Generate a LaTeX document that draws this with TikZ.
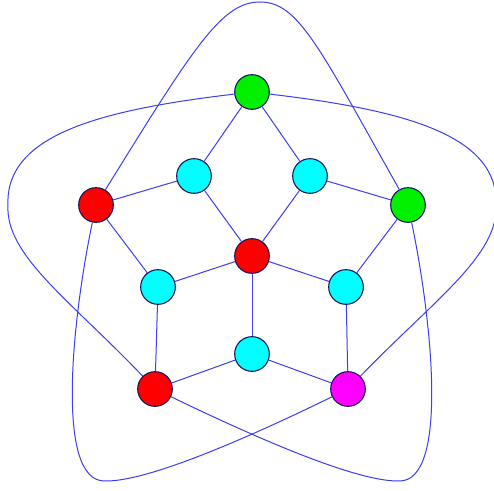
\documentclass[tikz,border=0pt]{standalone}
\usetikzlibrary{positioning}

\definecolor{edgeblue}{RGB}{60,60,240}
\definecolor{rimnavy}{RGB}{20,20,90}
\definecolor{vgreen}{RGB}{0,240,0}
\definecolor{vred}{RGB}{255,0,0}
\definecolor{vcyan}{RGB}{0,255,255}
\definecolor{vmagenta}{RGB}{255,0,255}

\tikzset{
  vertex/.style={circle, draw=rimnavy, line width=0.8pt, minimum size=26pt, inner sep=0pt},
  link/.style={draw=edgeblue, line width=0.75pt}
}

\begin{document}
\begin{tikzpicture}[x=0.75pt,y=0.75pt,yscale=-1,xscale=1]
\useasboundingbox (0,0) rectangle (494,491);

%outer vertices
\node [vertex, fill=vgreen] (top) at (252,92) {};
\node [vertex, fill=vred] (left) at (96,205) {};
\node [vertex, fill=vgreen] (right) at (408,205) {};
\node [vertex, fill=vred] (botleft) at (155,389) {};
\node [vertex, fill=vmagenta] (botright) at (348,389) {};
%inner vertices
\node [vertex, fill=vcyan] (upl) at (194,176) {};
\node [vertex, fill=vcyan] (upr) at (310,176) {};
\node [vertex, fill=vred] (hub) at (252,256) {};
\node [vertex, fill=vcyan] (midl) at (158,287) {};
\node [vertex, fill=vcyan] (midr) at (346,287) {};
\node [vertex, fill=vcyan] (botmid) at (252,354) {};

%straight edges
\draw [link] (top) -- (upl);
\draw [link] (top) -- (upr);
\draw [link] (left) -- (upl);
\draw [link] (left) -- (midl);
\draw [link] (right) -- (upr);
\draw [link] (right) -- (midr);
\draw [link] (upl) -- (hub);
\draw [link] (upr) -- (hub);
\draw [link] (hub) -- (midl);
\draw [link] (hub) -- (midr);
\draw [link] (hub) -- (botmid);
\draw [link] (midl) -- (botleft);
\draw [link] (midr) -- (botright);
\draw [link] (botmid) -- (botleft);
\draw [link] (botmid) -- (botright);

%loops
\draw [link] (left) .. controls (195,45) and (222,2) .. (260,2) .. controls (298,2) and (318,45) .. (right);
\draw [link] (top) .. controls (100,110) and (5,135) .. (8,205) .. controls (5,255) and (70,300) .. (botleft);
\draw [link] (top) .. controls (404,110) and (499,135) .. (496,205) .. controls (499,255) and (434,300) .. (botright);
\draw [link] (left) .. controls (72,320) and (55,482) .. (105,481) .. controls (150,482) and (260,432) .. (botright);
\draw [link] (right) .. controls (432,320) and (449,482) .. (399,481) .. controls (354,482) and (244,432) .. (botleft);
\end{tikzpicture}
\end{document}
